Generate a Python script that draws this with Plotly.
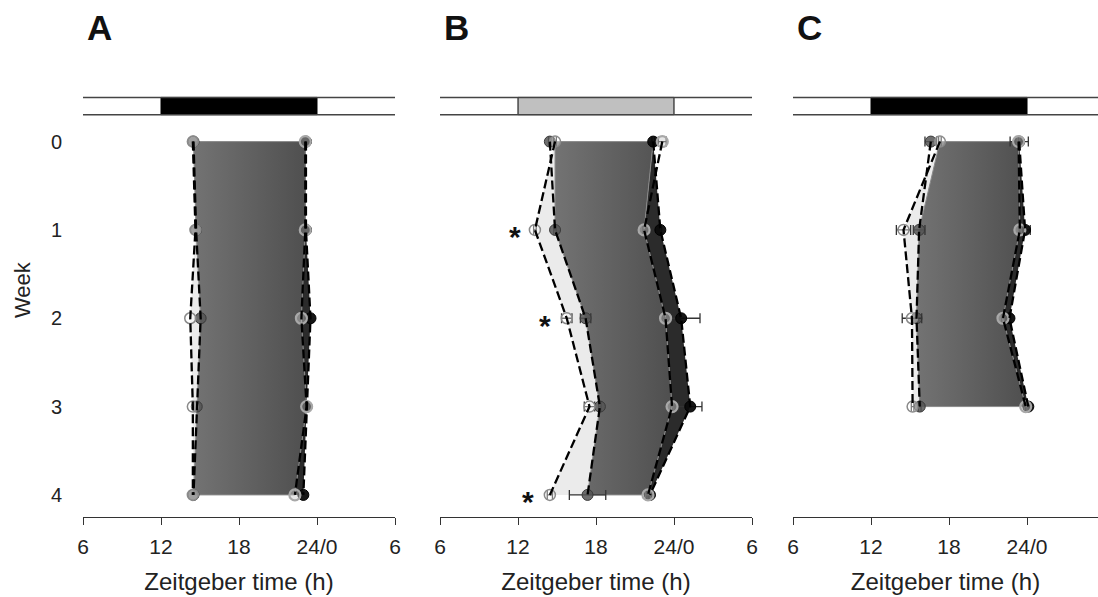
import numpy as np
import plotly.graph_objects as go

weeks = [0, 1, 2, 3, 4]

# Panel A
a_on_ctrl = [14.5, 14.7, 15.05, 14.75, 14.5]
a_on_trt = [14.45, 14.65, 14.25, 14.45, 14.45]
a_off_ctrl = [23.1, 23.1, 22.8, 23.2, 22.3]
a_off_trt = [23.15, 23.15, 23.5, 23.2, 22.95]

# Panel B
b_on_ctrl = [14.45, 14.85, 17.2, 18.3, 17.35]
b_on_trt = [14.85, 13.3, 15.75, 17.5, 14.45]
b_off_ctrl = [23.1, 21.7, 23.35, 23.85, 22.0]
b_off_trt = [22.4, 22.95, 24.55, 25.25, 22.15]
b_on_ctrl_err = [0.1, 0.1, 0.4, 0.1, 1.4]
b_on_trt_err = [0.1, 0.1, 0.4, 0.4, 0.2]
b_off_ctrl_err = [0.3, 0.1, 0.1, 0.1, 0.2]
b_off_trt_err = [0.1, 0.1, 1.45, 0.9, 0.1]
b_stars_x = [11.8, 14.1, 12.8]
b_stars_week = [1, 2, 4]

# Panel C
c_weeks = [0, 1, 2, 3]
c_on_ctrl = [16.6, 15.7, 15.5, 15.75]
c_on_trt = [17.3, 14.5, 15.15, 15.2]
c_off_ctrl = [23.35, 23.45, 22.15, 23.9]
c_off_trt = [23.4, 23.85, 22.65, 24.1]
c_on_ctrl_err = [0.45, 0.45, 0.1, 0.1]
c_on_trt_err = [0.1, 0.55, 0.75, 0.1]
c_off_ctrl_err = [0.1, 0.1, 0.1, 0.1]
c_off_trt_err = [0.7, 0.4, 0.1, 0.1]

FONT = "Liberation Sans, Arial, sans-serif"

fig = go.Figure()


def add_panel(idx, wk, on_c, on_t, off_c, off_t, errs=None):
    xa = "x" if idx == 1 else f"x{idx}"
    ya = "y" if idx == 1 else f"y{idx}"
    wk = np.array(wk, float)
    on_c = np.array(on_c); on_t = np.array(on_t)
    off_c = np.array(off_c); off_t = np.array(off_t)
    left = np.maximum(on_c, on_t)
    right = np.minimum(off_c, off_t)
    # light fill (earlier onset)
    fig.add_trace(go.Scatter(x=np.concatenate([on_t, left[::-1]]),
                             y=np.concatenate([wk, wk[::-1]]),
                             fill="toself", fillcolor="#ebebeb", mode="none",
                             xaxis=xa, yaxis=ya, showlegend=False, hoverinfo="skip"))
    # dark fill (later offset)
    fig.add_trace(go.Scatter(x=np.concatenate([right, off_t[::-1]]),
                             y=np.concatenate([wk, wk[::-1]]),
                             fill="toself", fillcolor="#2b2b2b", mode="none",
                             xaxis=xa, yaxis=ya, showlegend=False, hoverinfo="skip"))
    # gradient core
    fig.add_trace(go.Scatter(x=np.concatenate([left, right[::-1], left[:1]]),
                             y=np.concatenate([wk, wk[::-1], wk[:1]]),
                             fill="toself", mode="lines",
                             line=dict(color="#8a8a8a", width=1),
                             fillgradient=dict(type="horizontal",
                                               colorscale=[[0, "#737373"], [1, "#4f4f4f"]]),
                             xaxis=xa, yaxis=ya, showlegend=False, hoverinfo="skip"))
    # draw order: ctrl onset, trt onset, trt offset, ctrl offset
    styles = [
        (on_c, 0, dict(color="rgba(85,85,85,0.85)", line=dict(color="#3a3a3a", width=1))),
        (on_t, 1, dict(color="rgba(255,255,255,0.35)", line=dict(color="#8a8a8a", width=1.5))),
        (off_t, 3, dict(color="rgba(10,10,10,0.95)", line=dict(color="#000000", width=1))),
        (off_c, 2, dict(color="rgba(200,200,200,0.45)", line=dict(color="#a8a8a8", width=2.2))),
    ]
    for vals, ei, mk in styles:
        ex = None
        if errs is not None:
            ex = dict(type="data", array=errs[ei], symmetric=True, color="#333333",
                      thickness=1.3, width=5)
        fig.add_trace(go.Scatter(x=vals, y=wk, mode="markers",
                                 marker=dict(size=11, **mk), error_x=ex,
                                 xaxis=xa, yaxis=ya, showlegend=False))
    for vals, _, _ in styles:
        fig.add_trace(go.Scatter(x=vals, y=wk, mode="lines",
                                 line=dict(color="#000000", width=2.3, dash="9px,4px"),
                                 xaxis=xa, yaxis=ya, showlegend=False, hoverinfo="skip"))


add_panel(1, weeks, a_on_ctrl, a_on_trt, a_off_ctrl, a_off_trt)
add_panel(2, weeks, b_on_ctrl, b_on_trt, b_off_ctrl, b_off_trt,
          [b_on_ctrl_err, b_on_trt_err, b_off_ctrl_err, b_off_trt_err])
add_panel(3, c_weeks, c_on_ctrl, c_on_trt, c_off_ctrl, c_off_trt,
          [c_on_ctrl_err, c_on_trt_err, c_off_ctrl_err, c_off_trt_err])

W, H = 1098, 597
doms = [(83 / W, 395 / W), (440 / W, 752 / W), (793 / W, 1.0)]
ranges = [[6, 30], [6, 30], [6, 29.46]]
tickv = [[6, 12, 18, 24, 30], [6, 12, 18, 24, 30], [6, 12, 18, 24]]
tickt = [["6", "12", "18", "24/0", "6"], ["6", "12", "18", "24/0", "6"], ["6", "12", "18", "24/0"]]
yrange = [4.25, -0.55]

layout = dict(width=W, height=H, margin=dict(l=0, r=0, t=93, b=80),
              plot_bgcolor="white", paper_bgcolor="white",
              font=dict(family=FONT, color="#222222"))
for i in range(3):
    sx = "" if i == 0 else str(i + 1)
    layout["xaxis" + sx] = dict(domain=list(doms[i]), range=ranges[i], tickvals=tickv[i],
                                ticktext=tickt[i], showline=True, linecolor="#333333",
                                linewidth=1.3, ticks="outside", ticklen=7, tickcolor="#333333",
                                tickwidth=1.3, showgrid=False, zeroline=False,
                                automargin=False, ticklabelstandoff=4,
                                tickfont=dict(size=21, family=FONT, color="#222222"),
                                title=dict(text="Zeitgeber time (h)", standoff=15,
                                           font=dict(size=24, family=FONT, color="#222222")),
                                anchor="y" + sx)
    ydict = dict(range=yrange, showgrid=False, zeroline=False, showline=False,
                 anchor="x" + sx, domain=[0, 1], automargin=False)
    if i == 0:
        ydict.update(tickvals=[0, 1, 2, 3, 4], ticks="", ticklabelstandoff=20,
                     tickfont=dict(size=20, family=FONT, color="#222222"))
    else:
        ydict.update(showticklabels=False, ticks="")
    layout["yaxis" + sx] = ydict
fig.update_layout(**layout)

# y-axis title
fig.add_annotation(text="Week", xref="paper", yref="paper", x=22 / W, y=(517 - 290) / 424,
                   xanchor="center", yanchor="middle", textangle=-90, showarrow=False,
                   font=dict(size=22, family=FONT, color="#222222"))

# light/dark bars
bar_colors = ["#000000", "#c0c0c0", "#000000"]
for i in range(3):
    sx = "" if i == 0 else str(i + 1)
    fig.add_shape(type="rect", xref="x" + sx, yref="y" + sx, x0=12, x1=24, y0=-0.5, y1=-0.305,
                  fillcolor=bar_colors[i], line=dict(color="#000000", width=1))
    for yy in (-0.5, -0.305):
        fig.add_shape(type="line", xref="x" + sx + " domain", yref="y" + sx, x0=0, x1=1,
                      y0=yy, y1=yy, line=dict(color="#444444", width=1.5))

# panel letters
for lab, px in zip(["A", "B", "C"], [99, 456, 809]):
    fig.add_annotation(text="<b>%s</b>" % lab, xref="paper", yref="paper",
                       x=px / W, y=(517 - 28) / 424, xanchor="center", yanchor="middle",
                       showarrow=False, font=dict(size=35, family=FONT, color="#111111"))

# significance stars
for sx_, sw in zip(b_stars_x, b_stars_week):
    fig.add_annotation(text="<b>*</b>", xref="x2", yref="y2", x=sx_, y=sw, showarrow=False,
                       yshift=-7, font=dict(size=30, family=FONT, color="#111111"))

fig.write_html("out.html")
